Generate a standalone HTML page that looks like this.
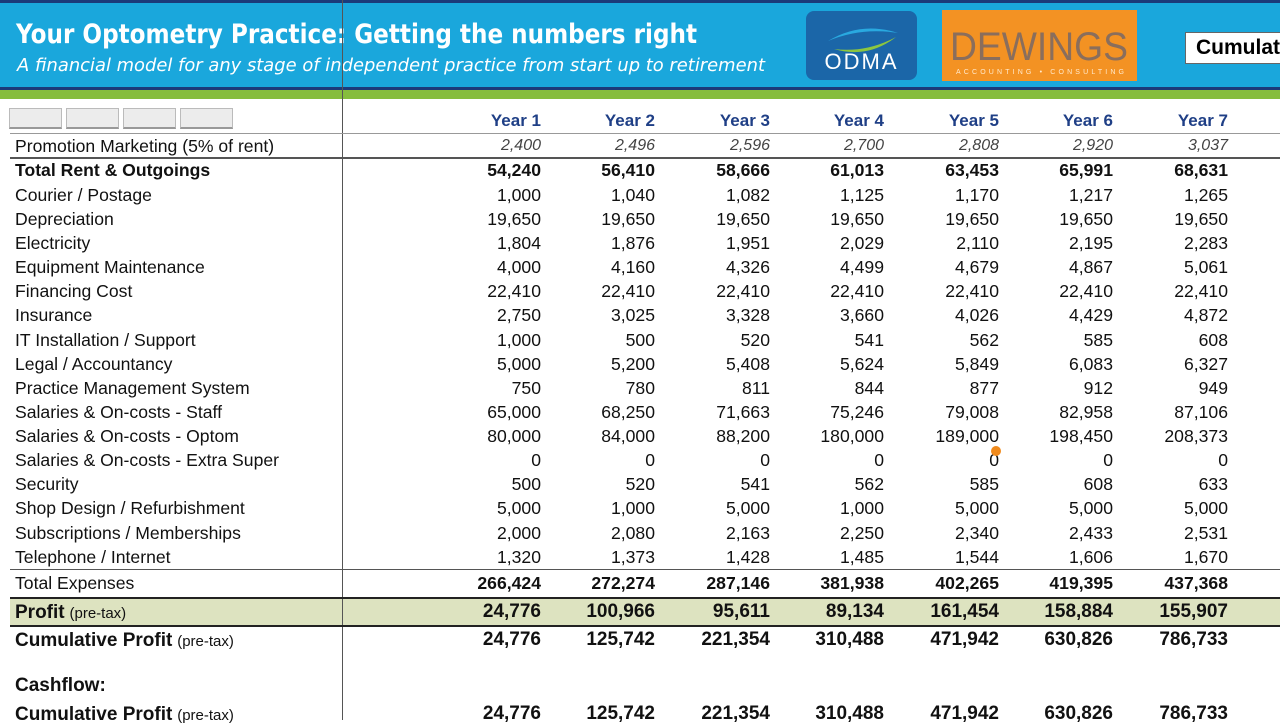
<!DOCTYPE html>
<html><head><meta charset="utf-8"><style>
body{margin:0;width:1280px;height:720px;overflow:hidden;background:#fff;position:relative;font-family:"Liberation Sans",Arial,sans-serif;}
.a{position:absolute;white-space:nowrap;}
.lbl{position:absolute;left:15px;font-size:17.6px;color:#111;line-height:20px;}
.n{position:absolute;font-size:17.6px;color:#111;text-align:right;width:110px;line-height:20px;}
.b{font-weight:bold;}
.i{font-style:italic;color:#444;font-size:16px;}
.yr{position:absolute;font-size:17px;font-weight:bold;color:#1f3f86;text-align:right;width:110px;}
.btn{position:absolute;top:108px;width:51px;height:18px;background:#ececec;border:1px solid #bbb;border-bottom:2px solid #999;}
</style></head><body>
<div class="a" style="left:0;top:0;width:1280px;height:90px;background:#1aa7dc;border-top:3px solid #1b3a7a;box-sizing:border-box;border-bottom:3px solid #1b3a7a;"></div>
<div class="a" style="left:0;top:90px;width:1280px;height:9px;background:#86bd3d;"></div>
<svg class="a" style="left:0;top:0" width="800" height="85">
<text x="16" y="43" font-family="DejaVu Sans" font-weight="bold" font-size="27" fill="#fff" textLength="681" lengthAdjust="spacingAndGlyphs">Your Optometry Practice: Getting the numbers right</text>
<text x="17" y="71" font-family="DejaVu Sans" font-style="italic" font-size="18" fill="#fff" textLength="748" lengthAdjust="spacingAndGlyphs">A financial model for any stage of independent practice from start up to retirement</text>
</svg>
<div class="a" style="left:806px;top:11px;width:111px;height:69px;background:#1b66a8;border-radius:8px;"></div>
<svg class="a" style="left:806px;top:11px" width="111" height="69"><path d="M22 30 Q55 10 92 22 Q55 16 22 30Z" fill="#29a9e0"/><path d="M28 38 Q60 42 90 26 Q62 48 28 38Z" fill="#8cc63f"/></svg>
<div class="a" style="left:806px;top:49px;width:111px;text-align:center;color:#fff;font-size:22px;letter-spacing:2px;">ODMA</div>
<div class="a" style="left:942px;top:10px;width:195px;height:71px;background:#f39223;"></div>
<svg class="a" style="left:942px;top:10px" width="195" height="71">
<text x="8" y="50" font-family="Liberation Sans" font-size="40" fill="#8a6e5c" textLength="178" lengthAdjust="spacingAndGlyphs">DEWINGS</text>
<text x="14" y="64" font-family="Liberation Sans" font-size="7" fill="#ffe9cc" textLength="168" lengthAdjust="spacing">ACCOUNTING • CONSULTING</text>
</svg>
<div class="a" style="left:1185px;top:32px;width:100px;height:32px;background:#fff;border:1px solid #666;box-sizing:border-box;font-size:21px;font-weight:bold;padding:3px 0 0 10px;">Cumulati</div>
<div class="a" style="left:342px;top:0;width:1px;height:720px;background:#555;"></div>
<div class="btn" style="left:9px"></div><div class="btn" style="left:66px"></div><div class="btn" style="left:123px"></div><div class="btn" style="left:180px"></div>
<div class="a" style="left:10px;top:133px;width:1270px;height:1px;background:#999;"></div>
<div class="a" style="left:10px;top:157px;width:1270px;height:2px;background:#555;"></div>
<div class="a" style="left:10px;top:569px;width:1270px;height:1px;background:#555;"></div>
<div class="a" style="left:10px;top:597px;width:1270px;height:30px;background:#dde3c0;border-top:2px solid #222;border-bottom:2px solid #222;box-sizing:border-box;"></div>
<div class="a" style="left:342px;top:599px;width:1px;height:26px;background:#555;"></div>
<div id="c"></div>
<script>
var R=[541,655,770,884,999,1113,1228];
var h='';
for(var k=0;k<7;k++)h+='<div class="yr" style="left:'+(R[k]-110)+'px;top:111px">Year '+(k+1)+'</div>';
var rows=[
[146,'Promotion Marketing (5% of rent)','',['2,400','2,496','2,596','2,700','2,808','2,920','3,037'],0,1],
[170,'Total Rent &amp; Outgoings','b',['54,240','56,410','58,666','61,013','63,453','65,991','68,631']],
[195,'Courier / Postage','',['1,000','1,040','1,082','1,125','1,170','1,217','1,265']],
[219,'Depreciation','',['19,650','19,650','19,650','19,650','19,650','19,650','19,650']],
[243,'Electricity','',['1,804','1,876','1,951','2,029','2,110','2,195','2,283']],
[267,'Equipment Maintenance','',['4,000','4,160','4,326','4,499','4,679','4,867','5,061']],
[291,'Financing Cost','',['22,410','22,410','22,410','22,410','22,410','22,410','22,410']],
[315,'Insurance','',['2,750','3,025','3,328','3,660','4,026','4,429','4,872']],
[340,'IT Installation / Support','',['1,000','500','520','541','562','585','608']],
[364,'Legal / Accountancy','',['5,000','5,200','5,408','5,624','5,849','6,083','6,327']],
[388,'Practice Management System','',['750','780','811','844','877','912','949']],
[412,'Salaries &amp; On-costs - Staff','',['65,000','68,250','71,663','75,246','79,008','82,958','87,106']],
[436,'Salaries &amp; On-costs - Optom','',['80,000','84,000','88,200','180,000','189,000','198,450','208,373']],
[460,'Salaries &amp; On-costs - Extra Super','',['0','0','0','0','0','0','0']],
[484,'Security','',['500','520','541','562','585','608','633']],
[508,'Shop Design / Refurbishment','',['5,000','1,000','5,000','1,000','5,000','5,000','5,000']],
[533,'Subscriptions / Memberships','',['2,000','2,080','2,163','2,250','2,340','2,433','2,531']],
[557,'Telephone / Internet','',['1,320','1,373','1,428','1,485','1,544','1,606','1,670']],
[583,'Total Expenses','',['266,424','272,274','287,146','381,938','402,265','419,395','437,368'],1],
[612,'<b style="font-size:19px">Profit</b> <span style="font-size:15px">(pre-tax)</span>','',['24,776','100,966','95,611','89,134','161,454','158,884','155,907'],2],
[640,'<b style="font-size:19px">Cumulative Profit</b> <span style="font-size:15px">(pre-tax)</span>','',['24,776','125,742','221,354','310,488','471,942','630,826','786,733'],2],
[714,'<b style="font-size:19px">Cumulative Profit</b> <span style="font-size:15px">(pre-tax)</span>','',['24,776','125,742','221,354','310,488','471,942','630,826','786,733'],2]
];
rows.forEach(function(r){
 var cls=r[2];
 h+='<div class="lbl '+(cls=='b'?'b':'')+'" style="top:'+(r[0]-10)+'px">'+r[1]+'</div>';
 for(var k=0;k<7;k++){
  var st='top:'+(r[0]-10)+'px;left:'+(R[k]-110)+'px;';
  var c='n '+(r[5]?'i':'')+(cls=='b'||r[4]?' b':'');
  if(r[4]==2)st+='font-size:19px;';
  h+='<div class="'+c+'" style="'+st+'">'+r[3][k]+'</div>';
 }
});
h+='<div class="lbl b" style="top:676px;font-size:19px">Cashflow:</div>';
document.getElementById('c').innerHTML=h;
</script>
<div class="a" style="left:991px;top:446px;width:10px;height:10px;border-radius:5px;background:#f08a1c;"></div>
</body></html>
